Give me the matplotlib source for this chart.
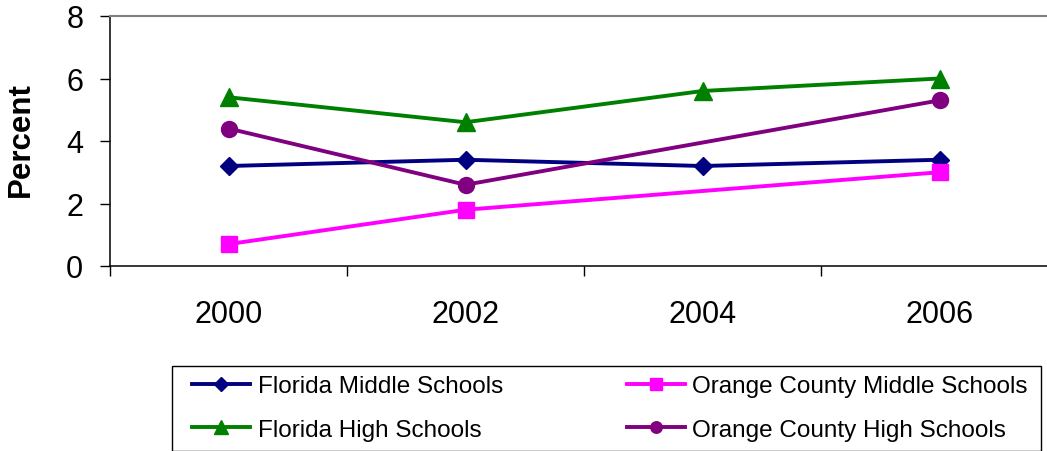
import matplotlib
matplotlib.use("Agg")
import matplotlib.pyplot as plt
from matplotlib.patches import Rectangle

plt.rcParams['font.family'] = ['Liberation Sans', 'DejaVu Sans']

# data
years = ['2000', '2002', '2004', '2006']
fl_middle = [3.2, 3.4, 3.2, 3.4]
fl_high = [5.4, 4.6, 5.6, 6.0]
oc_x = [0, 1, 3]          # Orange County has no 2004 value
oc_middle = [0.7, 1.8, 3.0]
oc_high = [4.4, 2.6, 5.3]

W, H = 1047, 452
fig = plt.figure(figsize=(W / 100, H / 100), dpi=100)
ax = fig.add_axes([110 / W, 185 / H, 948 / W, 250 / H])

x_all = list(range(len(years)))
lw = 2.8
l1, = ax.plot(x_all, fl_middle, color='#000080', lw=lw, marker='D', ms=9.5,
              label='Florida Middle Schools')
l2, = ax.plot(oc_x, oc_middle, color='#FF00FF', lw=lw, marker='s', ms=11.5,
              label='Orange County Middle Schools')
l3, = ax.plot(x_all, fl_high, color='#008000', lw=lw, marker='^', ms=13.5,
              label='Florida High Schools')
l4, = ax.plot(oc_x, oc_high, color='#800080', lw=lw, marker='o', ms=11.5,
              label='Orange County High Schools')

ax.set_xlim(-0.5, len(years) - 0.5)
ax.set_ylim(0, 8)
ax.set_yticks([0, 2, 4, 6, 8])
ax.set_xticks([i - 0.5 for i in range(len(years) + 1)])
ax.set_xticklabels([])
ax.set_xticks(x_all, minor=True)
ax.set_xticklabels(years, minor=True)
ax.tick_params(axis='x', which='minor', length=0, labelsize=22, pad=24)
ax.tick_params(axis='x', which='major', length=7.2, width=1, direction='out')
ax.tick_params(axis='y', length=7.2, width=1, direction='out', labelsize=22, pad=12)

for s in ['left', 'bottom']:
    ax.spines[s].set_color('black')
    ax.spines[s].set_linewidth(1.1)
for s in ['top', 'right']:
    ax.spines[s].set_color('#808080')
    ax.spines[s].set_linewidth(1.5)

fig.text(21 / W, 1 - 140 / H, 'Percent', rotation=90, ha='center', va='center',
         fontsize=22.5, fontweight='bold')

# legend box
fig.patches.append(Rectangle((172 / W, 0), (1041 - 172) / W, 1 - 367 / H,
                             transform=fig.transFigure, fill=False,
                             edgecolor='black', lw=1.0))
# column-first fill: order so rows read FMS | OCMS, FHS | OCHS
order = [l1, l3, l2, l4]
fig.legend(order, [l.get_label() for l in order],
           ncol=2, loc='upper left', bbox_to_anchor=(192 / W, 1 - 376 / H),
           frameon=False, fontsize=17.5, handlelength=2.4, handletextpad=0.3,
           columnspacing=5.1, labelspacing=0.9, borderpad=0, borderaxespad=0,
           markerscale=0.72)

fig.savefig('out.png', dpi=100)
